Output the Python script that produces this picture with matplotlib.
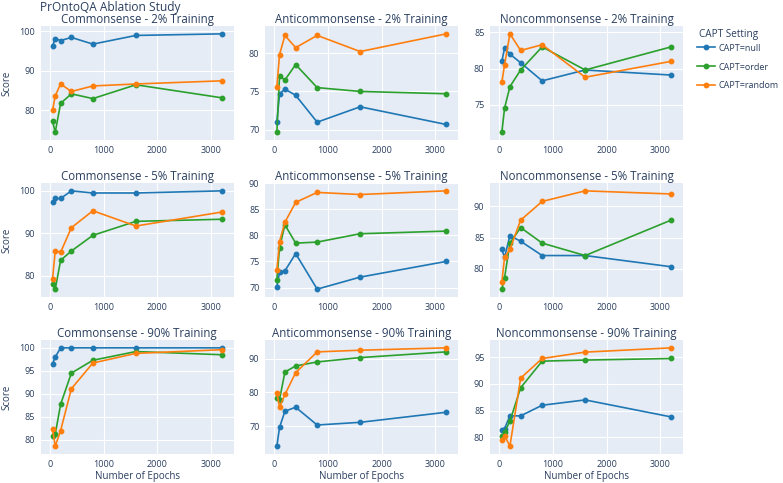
import numpy as np
import matplotlib.pyplot as plt
from matplotlib.ticker import MultipleLocator
from matplotlib.lines import Line2D

plt.rcParams['font.family'] = ['Open Sans', 'DejaVu Sans']

epochs = [50, 100, 200, 400, 800, 1600, 3200]
settings = ['CAPT=null', 'CAPT=order', 'CAPT=random']
tasks = ['Commonsense', 'Anticommonsense', 'Noncommonsense']
splits = ['2%', '5%', '90%']

# scores[split][task] -> null, order, random
scores = {
    '2%': {
        'Commonsense': [
            [96.3, 98.2, 97.7, 98.5, 96.8, 99.0, 99.4],
            [77.2, 74.5, 81.8, 84.2, 83.0, 86.5, 83.2],
            [80.0, 83.7, 86.7, 84.8, 86.2, 86.7, 87.5]],
        'Anticommonsense': [
            [71.0, 74.7, 75.3, 74.5, 71.0, 73.0, 70.7],
            [69.7, 77.0, 76.5, 78.5, 75.5, 75.0, 74.7],
            [75.6, 79.8, 82.3, 80.7, 82.3, 80.2, 82.5]],
        'Noncommonsense': [
            [81.0, 82.8, 82.0, 80.8, 78.3, 79.8, 79.1],
            [71.2, 74.5, 77.5, 79.8, 83.0, 79.8, 83.0],
            [78.1, 80.5, 84.8, 82.5, 83.3, 78.8, 81.0]],
    },
    '5%': {
        'Commonsense': [
            [97.3, 98.2, 98.2, 100.0, 99.5, 99.5, 100.0],
            [77.9, 76.8, 83.6, 85.8, 89.5, 92.8, 93.3],
            [79.3, 85.8, 85.5, 91.3, 95.3, 91.7, 95.0]],
        'Anticommonsense': [
            [70.2, 72.9, 73.2, 76.5, 69.7, 72.0, 75.0],
            [71.5, 77.6, 82.0, 78.5, 78.7, 80.3, 80.8],
            [73.3, 78.8, 82.5, 86.3, 88.2, 87.8, 88.5]],
        'Noncommonsense': [
            [83.1, 81.8, 85.3, 84.4, 82.1, 82.1, 80.3],
            [76.7, 78.5, 84.1, 86.6, 84.1, 82.1, 87.8],
            [77.8, 81.8, 83.1, 87.8, 90.8, 92.5, 92.0]],
    },
    '90%': {
        'Commonsense': [
            [96.5, 98.0, 100.0, 100.0, 100.0, 100.0, 100.0],
            [80.9, 81.2, 87.7, 94.5, 97.3, 99.2, 98.5],
            [82.3, 78.6, 82.0, 91.1, 96.7, 98.8, 99.6]],
        'Anticommonsense': [
            [64.0, 69.6, 74.4, 75.6, 70.3, 71.1, 74.1],
            [78.3, 77.9, 86.1, 87.9, 89.1, 90.4, 92.1],
            [79.9, 75.6, 79.4, 85.9, 92.1, 92.6, 93.3]],
        'Noncommonsense': [
            [81.3, 81.6, 84.0, 84.0, 86.0, 87.0, 83.8],
            [80.2, 80.9, 83.0, 89.3, 94.3, 94.5, 94.8],
            [79.5, 80.3, 78.3, 91.1, 94.8, 96.0, 96.8]],
    },
}

ytick_step = [[10, 5, 5], [10, 5, 5], [5, 10, 5]]

colors = ['#1f77b4', '#2ca02c', '#ff7f0e']
txt = '#2a3f5f'
W, H = 783, 483

fig = plt.figure(figsize=(W / 100, H / 100), dpi=100)

col_left = [40.7, 265, 490]
row_top = [26, 183, 340]
aw, ah = 193, 114

for r, split in enumerate(splits):
    for c, task in enumerate(tasks):
        ax = fig.add_axes([col_left[c] / W, 1 - (row_top[r] + ah) / H, aw / W, ah / H])
        ax.set_facecolor('#E5ECF6')
        for s, ys in enumerate(scores[split][task]):
            ax.plot(epochs, ys, '-o', color=colors[s], lw=1.2, ms=3.2, zorder=3)
        ax.margins(x=0.07, y=0.08)
        ax.xaxis.set_major_locator(MultipleLocator(1000))
        ax.yaxis.set_major_locator(MultipleLocator(ytick_step[r][c]))
        ax.grid(True, color='white', lw=0.8)
        ax.set_axisbelow(True)
        for sp in ax.spines.values():
            sp.set_visible(False)
        ax.tick_params(length=0, labelsize=6.5, colors=txt, pad=4)
        ax.set_title(f'{task} - {split} Training', fontsize=8.3, color=txt, pad=2)
        if c == 0:
            ax.set_ylabel('Score', fontsize=7, color=txt, va='center', rotation=90)
            ax.yaxis.set_label_coords((7 - col_left[0]) / aw, 0.5)
        if r == 2:
            ax.set_xlabel('Number of Epochs', fontsize=7, color=txt, va='center')
            ax.xaxis.set_label_coords(0.5, -(477 - 454) / ah)

fig.text(40 / W, 1 - 1 / H, 'PrOntoQA Ablation Study', fontsize=8.6, color=txt,
         ha='left', va='top')

fig.text(699 / W, 1 - 35 / H, 'CAPT Setting', fontsize=7.2, color=txt,
         ha='left', va='center')
handles = [Line2D([], [], color=colors[i], marker='o', lw=1.2, ms=3.2) for i in range(3)]
fig.legend(handles, settings, loc='center left',
           bbox_to_anchor=(697 / W, 1 - 67 / H), frameon=False,
           borderaxespad=0, borderpad=0,
           fontsize=6.5, labelspacing=1.1,
           handlelength=2.0, handletextpad=0.4,
           labelcolor=txt)

fig.savefig('out.png', dpi=100)
